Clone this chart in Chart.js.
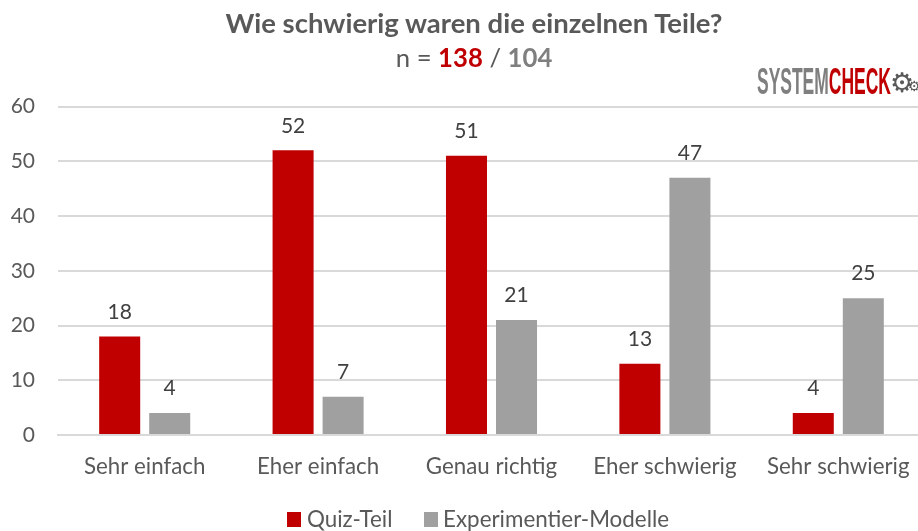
<!DOCTYPE html>
<html><head><meta charset="utf-8">
<script src="https://cdn.jsdelivr.net/npm/chart.js@4"></script>
<style>html,body{margin:0;padding:0;background:#fff;overflow:hidden}
#w{position:relative;width:918px;height:531px;font-family:Lato,sans-serif;overflow:hidden}
canvas{position:absolute;left:0;top:0}
.t{position:absolute;left:0;width:948px;text-align:center;color:#595959;font-family:Lato,sans-serif}
#logo{position:absolute;left:757px;top:64px;font:bold 36px/36px 'Liberation Sans Narrow',sans-serif;color:#7f7f7f;white-space:nowrap;transform-origin:0 0;transform:scaleX(.485)}
.gear{position:absolute;font-family:'DejaVu Sans',sans-serif;font-weight:bold;color:#595959}
</style></head><body><div id="w">
<canvas id="c" width="948" height="531" style="width:948px;height:531px"></canvas>
<div class="t" style="top:7px;font-size:27.5px;font-weight:700;line-height:32px">Wie schwierig waren die einzelnen Teile?</div>
<div class="t" style="top:41px;font-size:25.7px;line-height:32px">n = <b style="color:#c00000">138</b> / <b style="color:#7f7f7f">104</b></div>
<div id="logo">SYSTEM<span style="color:#c00000">CHECK</span></div>
<div class="gear" style="left:890px;top:68px;font-size:27px;line-height:30px">⚙</div>
<div class="gear" style="left:908px;top:78px;font-size:14px;line-height:16px">⚙</div>
</div>
<script>
const categories=['Sehr einfach','Eher einfach','Genau richtig','Eher schwierig','Sehr schwierig'];
const quizTeil=[18,52,51,13,4];
const experimentierModelle=[4,7,21,47,25];
const tickValues=[0,10,20,30,40,50,60];
const labelPlugin={id:'lbl',afterDatasetsDraw(ch){const c=ch.ctx;c.save();c.font="21px Lato,sans-serif";c.fillStyle='#404040';c.textAlign='center';c.textBaseline='bottom';
ch.data.datasets.forEach((d,i)=>ch.getDatasetMeta(i).data.forEach((b,j)=>c.fillText(d.data[j],b.x,b.y-14)));c.restore();}};
const legendPlugin={id:'lg',afterDraw(ch){const c=ch.ctx;c.save();c.font="22.4px Lato,sans-serif";c.textBaseline='alphabetic';c.textAlign='left';
const boxX=[287,424],textX=[307,443];
ch.data.datasets.forEach((d,i)=>{c.fillStyle=d.backgroundColor;c.fillRect(boxX[i],512,14,15);c.fillStyle='#595959';c.fillText(d.label,textX[i],527);});c.restore();}};
new Chart(document.getElementById('c'),{type:'bar',plugins:[labelPlugin,legendPlugin],data:{labels:categories,datasets:[
{label:'Quiz-Teil',data:quizTeil,backgroundColor:'#c00000'},
{label:'Experimentier-Modelle',data:experimentierModelle,backgroundColor:'#a0a0a0'}]},
options:{responsive:false,animation:false,
layout:{padding:{left:0,right:23,top:106.5,bottom:35}},
datasets:{bar:{categoryPercentage:.577,barPercentage:.82}},
scales:{x:{offset:true,grid:{display:false,drawTicks:false},border:{color:'#d9d9d9',width:2},afterFit(a){a.height=61},ticks:{color:'#595959',padding:18,font:{family:'Lato,sans-serif',size:22.3},maxRotation:0}},
y:{min:0,max:60,afterFit(a){a.width=58},afterBuildTicks(a){a.ticks=tickValues.map(v=>({value:v}))},grid:{color:'#d9d9d9',lineWidth:2,drawTicks:false},border:{display:false},ticks:{color:'#595959',padding:23,font:{family:'Lato,sans-serif',size:21}}}},
plugins:{title:{display:false},tooltip:{enabled:false},legend:{display:false}}}});
</script></body></html>
